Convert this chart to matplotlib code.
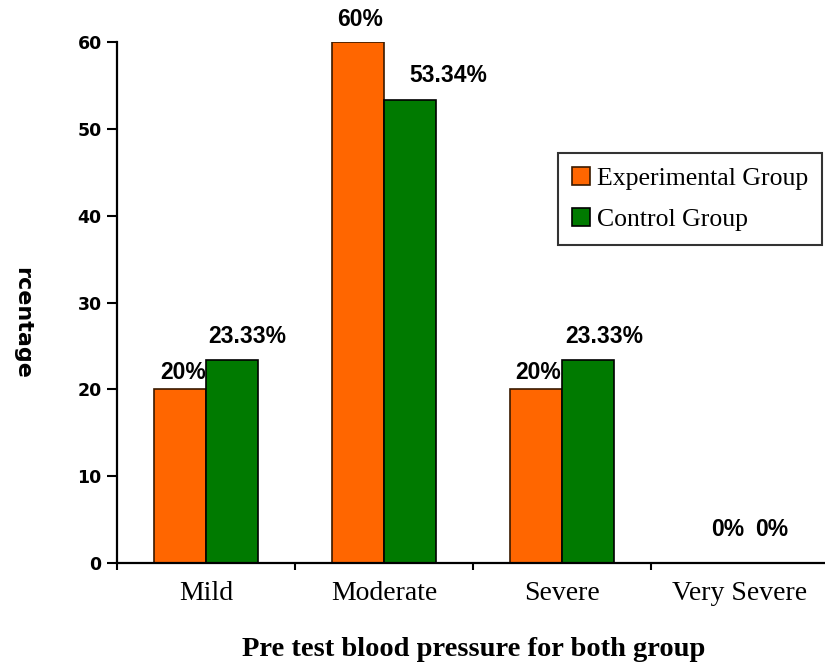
import numpy as np
import matplotlib.pyplot as plt

categories = ['Mild', 'Moderate', 'Severe', 'Very Severe']
experimental = [20, 60, 20, 0]
control = [23.33, 53.34, 23.33, 0]
exp_labels = ['20%', '60%', '20%', '0%']
ctrl_labels = ['23.33%', '53.34%', '23.33%', '0%']
y_ticks = [0, 10, 20, 30, 40, 50, 60]

# label nudges in pixels (dx, dy)
exp_offsets = [(3, 5), (2, 11), (2, 5), (14, 22)]
ctrl_offsets = [(15, 12), (39, 13), (16, 12), (6, 22)]

W, H = 825, 670
fig = plt.figure(figsize=(W / 100, H / 100), dpi=100)
ax = fig.add_axes([117 / W, 1 - 563 / H, (W - 117) / W, (563 - 42) / H])

x = np.arange(len(categories))
width = 0.29
bars_e = ax.bar(x - width, experimental, width=width, align='edge', color='#FF6600',
                edgecolor='#3a1a00', linewidth=1.2, label='Experimental Group')
bars_c = ax.bar(x, control, width=width, align='edge', color='#007A00',
                edgecolor='black', linewidth=1.2, label='Control Group')

label_font = dict(family='Liberation Sans', fontweight='bold', fontsize=16.5)
for bars, labels, offs in [(bars_e, exp_labels, exp_offsets), (bars_c, ctrl_labels, ctrl_offsets)]:
    for b, lab, (dx, dy) in zip(bars, labels, offs):
        ax.annotate(lab, (b.get_x() + b.get_width() / 2, b.get_height()),
                    xytext=(dx, dy), textcoords='offset pixels',
                    ha='center', va='bottom', **label_font)

ax.set_xlim(-0.5, 3.478)
ax.set_ylim(0, 60)
ax.set_yticks(y_ticks)
ax.set_yticklabels([str(t) for t in y_ticks], family='DejaVu Sans', fontweight='bold', fontsize=12.5)
ax.set_xticks(x)
ax.set_xticklabels(categories, family='Liberation Serif', fontsize=20)
ax.set_xticks(np.arange(-0.5, 3.5, 1.0), minor=True)
ax.tick_params(axis='x', which='major', length=0, pad=13)
ax.tick_params(axis='x', which='minor', length=5, width=1.5, direction='out')
ax.tick_params(axis='y', length=7, width=1.5, direction='out', pad=4)

for s in ['top', 'right']:
    ax.spines[s].set_visible(False)
for s in ['left', 'bottom']:
    ax.spines[s].set_linewidth(1.6)

leg = ax.legend(loc='upper right', bbox_to_anchor=(822 / W, 1 - 153 / H),
                bbox_transform=fig.transFigure, prop=dict(family='Liberation Serif', size=18.5),
                frameon=True, fancybox=False, edgecolor='black', handlelength=0.7,
                handleheight=0.7, handletextpad=0.25, borderpad=0.55, labelspacing=0.7,
                borderaxespad=0)
leg.get_frame().set_linewidth(1.5)

fig.text(22 / W, 1 - 323 / H, 'rcentage', rotation=270, ha='center', va='center',
         family='DejaVu Sans', fontweight='bold', fontsize=16)
fig.text(474 / W, 1 - 650 / H, 'Pre test blood pressure for both group', ha='center', va='center',
         family='Liberation Serif', fontweight='bold', fontsize=20.5)

fig.savefig('out.png', dpi=100)
